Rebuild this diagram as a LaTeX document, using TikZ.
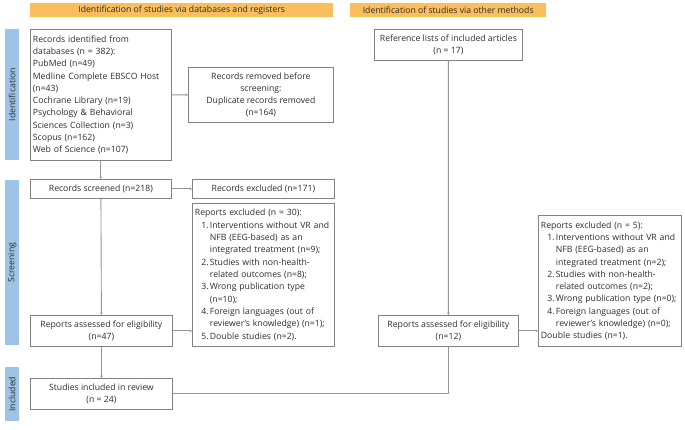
\documentclass[tikz,border=0pt]{standalone}
\usepackage{fontspec}
\setmainfont{Open Sans}
\usetikzlibrary{arrows.meta}
\definecolor{hdr}{RGB}{250,190,92}
\definecolor{side}{RGB}{157,195,230}
\definecolor{txt}{RGB}{45,45,45}
\definecolor{bord}{RGB}{130,130,130}
\definecolor{conn}{RGB}{150,150,150}
\newcommand{\itm}[2]{\hspace*{6.5bp}\makebox[8.5bp][l]{#1}#2}
\newcommand{\cnt}[1]{\hspace*{15bp}#1}
\begin{document}
\begin{tikzpicture}[x=1bp,y=-1bp,
  font=\fontsize{8.7}{12.35}\selectfont, text=txt,
  box/.style={draw=bord, line width=0.8bp, inner xsep=2.5bp, inner ysep=1bp, anchor=north west, fill=white},
  lbox/.style={box, align=left},
  cbox/.style={box, align=center},
  hdrbox/.style={fill=hdr, anchor=north west, inner sep=0pt},
  sidebar/.style={fill=side, anchor=north west, inner sep=0pt},
  conn/.style={draw=conn, line width=0.9bp, -{Stealth[length=2.5bp,width=2.5bp]}},
  plain/.style={draw=conn, line width=0.9bp}]
\useasboundingbox (0,0) rectangle (685,429);
\fill[white] (0,0) rectangle (685,429);

% headers
\node[hdrbox, minimum width=303bp, minimum height=14bp] (h1) at (30,3) {Identification of studies via databases and registers};
\node[hdrbox, minimum width=196bp, minimum height=14bp] (h2) at (350,3) {Identification of studies via other methods};

% side bars
\node[sidebar, minimum width=14bp, minimum height=131bp] (s1) at (5,29) {};
\node[rotate=90] (s1t) at (s1.center) {Identification};
\node[sidebar, minimum width=14bp, minimum height=165bp] (s2) at (5,180) {};
\node[rotate=90] (s2t) at (s2.center) {Screening};
\node[sidebar, minimum width=14bp, minimum height=54bp] (s3) at (5,367) {};
\node[rotate=90] (s3t) at (s3.center) {Included};

% boxes
\node[lbox, minimum width=141bp, minimum height=131bp, text width=136bp] (A) at (30,29)
 {Records identified from\\ databases (n = 382):\\ PubMed (n=49)\\ Medline Complete EBSCO Host\\ (n=43)\\ Cochrane Library (n=19)\\ Psychology \& Behavioral\\ Sciences Collection (n=3)\\ Scopus (n=162)\\ Web of Science (n=107)};
\node[cbox, minimum width=145bp, minimum height=55bp] (B) at (188,67)
 {Records removed before\\ screening:\\ Duplicate records removed\\ (n=164)};
\node[cbox, minimum width=141bp, minimum height=19bp] (C) at (30,179) {Records screened (n=218)};
\node[cbox, minimum width=142bp, minimum height=19bp] (D) at (192,179) {Records excluded (n=171)};
\node[lbox, minimum width=142bp, minimum height=143bp, text width=137bp] (E) at (192,203)
 {Reports excluded (n = 30):\\
  \itm{1.}{Interventions without VR and}\\
  \cnt{NFB (EEG-based) as an}\\
  \cnt{integrated treatment (n=9);}\\
  \itm{2.}{Studies with non-health-}\\
  \cnt{related outcomes (n=8);}\\
  \itm{3.}{Wrong publication type}\\
  \cnt{(n=10);}\\
  \itm{4.}{Foreign languages (out of}\\
  \cnt{reviewer's knowledge) (n=1);}\\
  \itm{5.}{Double studies (n=2).}};
\node[cbox, minimum width=142bp, minimum height=31bp] (F) at (30,315) {Reports assessed for eligibility\\ (n=47)};
\node[cbox, minimum width=142bp, minimum height=31bp] (G) at (30,378) {Studies included in review\\ (n = 24)};
\node[cbox, minimum width=148bp, minimum height=31bp] (H) at (374,29) {Reference lists of included articles\\ (n = 17)};
\node[cbox, minimum width=140bp, minimum height=31bp] (I) at (378,315) {Reports assessed for eligibility\\ (n=12)};
\node[lbox, minimum width=143bp, minimum height=131bp, text width=138bp] (J) at (538,215)
 {Reports excluded (n = 5):\\
  \itm{1.}{Interventions without VR and}\\
  \cnt{NFB (EEG-based) as an}\\
  \cnt{integrated treatment (n=2);}\\
  \itm{2.}{Studies with non-health-}\\
  \cnt{related outcomes (n=2);}\\
  \itm{3.}{Wrong publication type (n=0);}\\
  \itm{4.}{Foreign languages (out of}\\
  \cnt{reviewer's knowledge) (n=0);}\\
  Double studies (n=1).};

% connectors
\draw[conn] (A.south) -- (C.north);
\draw[conn] (A.east) -- (B.west);
\draw[conn] (C.east) -- (D.west);
\draw[conn] (C.south) -- (F.north);
\draw[conn] (F.east) -- (F.east -| E.west);
\draw[conn] (F.south) -- (G.north);
\draw[conn] (H.south) -- (I.north);
\draw[conn] (I.east) -- (I.east -| J.west);
\draw[plain] (G.east) -| (I.south);
\end{tikzpicture}
\end{document}
